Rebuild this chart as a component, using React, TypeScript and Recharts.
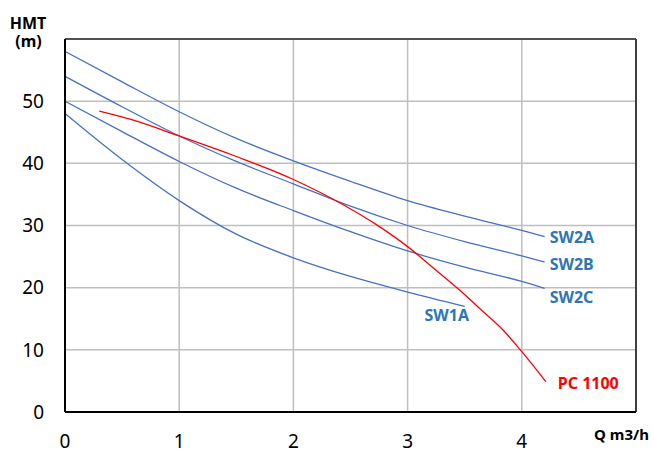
import React from "react";
import {
  LineChart,
  Line,
  XAxis,
  YAxis,
  CartesianGrid,
  ReferenceLine,
} from "recharts";

// pump curves, flow Q (m3/h) vs head HMT (m)
const qSW2 = [0, 0.5, 1, 1.5, 2, 2.5, 3, 3.5, 4, 4.2];
const hSW2A = [58, 53.1, 48.3, 44.0, 40.4, 37.1, 34.0, 31.5, 29.2, 28.2];
const hSW2B = [54, 49.1, 44.4, 40.3, 36.7, 33.1, 30.0, 27.4, 25.1, 24.1];
const hSW2C = [50, 45.1, 40.3, 36.0, 32.4, 29.0, 25.9, 23.3, 21.0, 19.9];
const qSW1A = [0, 0.5, 1, 1.5, 2, 2.5, 3, 3.5];
const hSW1A = [48, 40.6, 34.0, 28.6, 24.8, 21.8, 19.3, 17.0];
const qPC = [0.3, 0.57, 1, 1.5, 2, 2.44, 2.73, 3, 3.23, 3.45, 3.67, 3.84, 4, 4.21];
const hPC = [48.4, 47.1, 44.4, 41.1, 37.4, 33.3, 30.1, 26.6, 23.1, 19.7, 16.0, 13.1, 9.7, 4.9];

const xTicks = [0, 1, 2, 3, 4];
const yTicks = [0, 10, 20, 30, 40, 50];

const toPoints = (qs: number[], hs: number[]) => qs.map((q, i) => ({ q, h: hs[i] }));

const BLUE = "#4472C4";
const LABEL_BLUE = "#2E75B6";
const RED = "#FF0000";
const FONT = "'Noto Sans', sans-serif";

// draws the series name next to its last point only
const endLabel =
  (text: string, count: number, color: string, dx: number, dy: number, anchor = "start") =>
  (props: any) => {
    if (props.index !== count - 1) return <g key={`l-${text}-${props.index}`} />;
    return (
      <text
        key={`l-${text}`}
        x={props.x + dx}
        y={props.y + dy}
        fill={color}
        fontFamily={FONT}
        fontWeight="bold"
        fontSize={16}
        textAnchor={anchor}
        dominantBaseline="central"
      >
        {text}
      </text>
    );
  };

export default function App() {
  const series = [
    { name: "SW2A", data: toPoints(qSW2, hSW2A), color: BLUE, label: endLabel("SW2A", qSW2.length, LABEL_BLUE, 5, 0) },
    { name: "SW2B", data: toPoints(qSW2, hSW2B), color: BLUE, label: endLabel("SW2B", qSW2.length, LABEL_BLUE, 5, 2) },
    { name: "SW2C", data: toPoints(qSW2, hSW2C), color: BLUE, label: endLabel("SW2C", qSW2.length, LABEL_BLUE, 5, 9) },
    { name: "SW1A", data: toPoints(qSW1A, hSW1A), color: BLUE, label: endLabel("SW1A", qSW1A.length, LABEL_BLUE, -18, 9, "middle") },
    { name: "PC 1100", data: toPoints(qPC, hPC), color: RED, label: endLabel("PC 1100", qPC.length, RED, 12, 1) },
  ];

  const tick = { fontSize: 19, fill: "#000", fontFamily: FONT };

  return (
    <div style={{ position: "absolute", left: 0, top: 0, width: 653, height: 450, background: "#fff" }}>
      <LineChart width={653} height={450} margin={{ top: 39, right: 17, bottom: 8, left: 5 }}>
        <CartesianGrid stroke="#BFBFBF" strokeWidth={1.5} />
        <XAxis
          type="number"
          dataKey="q"
          domain={[0, 5]}
          ticks={xTicks}
          height={30}
          tick={tick}
          tickLine={false}
          tickSize={0}
          tickMargin={23}
          axisLine={{ stroke: "#000", strokeWidth: 2 }}
          allowDuplicatedCategory={false}
        />
        <YAxis
          type="number"
          dataKey="h"
          domain={[0, 60]}
          ticks={yTicks}
          width={60}
          tick={tick}
          tickLine={false}
          tickSize={0}
          tickMargin={21}
          axisLine={{ stroke: "#000", strokeWidth: 2 }}
        />
        <ReferenceLine y={60} stroke="#262626" strokeWidth={1.5} />
        <ReferenceLine x={5} stroke="#404040" strokeWidth={2} />
        {series.map((s) => (
          <Line
            key={s.name}
            data={s.data}
            dataKey="h"
            name={s.name}
            type="monotone"
            stroke={s.color}
            strokeWidth={1.3}
            dot={false}
            activeDot={false}
            label={s.label}
            isAnimationActive={false}
          />
        ))}
      </LineChart>
      <svg
        width={653}
        height={450}
        style={{ position: "absolute", left: 0, top: 0, pointerEvents: "none" }}
      >
        <text x={28} y={29} textAnchor="middle" fontFamily={FONT} fontWeight="bold" fontSize={16} fill="#000">
          HMT
        </text>
        <text x={28.5} y={47} textAnchor="middle" fontFamily={FONT} fontWeight="bold" fontSize={16} fill="#000">
          (m)
        </text>
        <text x={594} y={440} fontFamily={FONT} fontWeight="bold" fontSize={15} fill="#000">
          Q m3/h
        </text>
      </svg>
    </div>
  );
}
